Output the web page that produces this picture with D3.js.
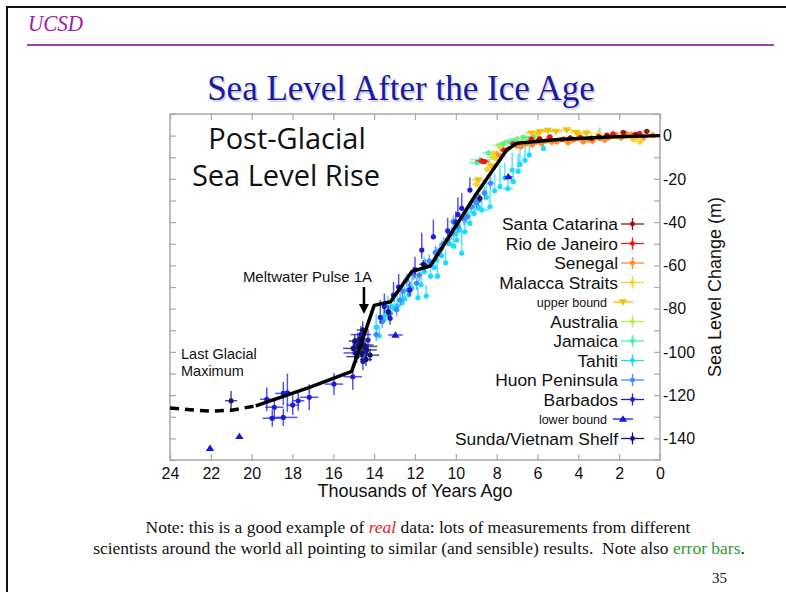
<!DOCTYPE html>
<html>
<head>
<meta charset="utf-8">
<script src="https://cdn.jsdelivr.net/npm/d3@7"></script>
<style>
  html, body { margin: 0; padding: 0; background: #fff; }
  svg { display: block; }
</style>
</head>
<body>
<svg id="slide" width="786" height="592"></svg>
<script>
// Each record: [age (thousand years ago), sea level (m), ± age, level error below, level error above]
const santaCatarina = [
  [0.65, 2.0, 0.15, 1, 1], [1.8, 1.5, 0.15, 1, 1], [3.35, -1.2, 0.15, 1, 1],
  [4.4, -1.0, 0.15, 1, 1], [2.6, 0.2, 0.15, 1, 1], [1.2, 0.6, 0.15, 1, 1],
  [5.9, -1.5, 0.15, 1, 1], [3.0, -0.4, 0.15, 1, 1]
];
const rioDeJaneiro = [
  [8.73, -11.7, 0.3, 1, 1], [7.65, -6.8, 0.2, 1.5, 1.5], [7.2, -3.8, 0.15, 1, 1],
  [6.3, -1.6, 0.15, 1, 1], [3.9, -0.8, 0.15, 1, 1], [2.3, 0.8, 0.15, 1, 1],
  [1.0, 1.0, 0.15, 1, 1], [5.4, -0.6, 0.15, 1, 1], [4.8, -1.8, 0.15, 1, 1],
  [8.6, -12.0, 0.25, 1, 1]
];
const senegal = [
  [6.53, -3.6, 0.2, 1.5, 1.5], [6.04, -2.8, 0.2, 1.5, 1.5], [5.55, -2.2, 0.2, 1.5, 1.5],
  [5.06, -2.8, 0.2, 1.5, 1.5], [4.24, -2.0, 0.2, 1.5, 1.5], [3.75, -2.8, 0.2, 1.5, 1.5],
  [2.94, -1.2, 0.2, 1.5, 1.5], [2.12, 0.3, 0.2, 1.5, 1.5], [1.63, 0.8, 0.2, 1.5, 1.5],
  [1.15, -0.4, 0.2, 1.5, 1.5], [0.35, 0.2, 0.2, 1.5, 1.5], [7.0, -4.8, 0.2, 1.5, 1.5],
  [7.45, -6.2, 0.2, 1.5, 1.5], [3.3, -2.5, 0.2, 1.5, 1.5], [4.7, -1.5, 0.2, 1.5, 1.5],
  [2.5, -0.8, 0.2, 1.5, 1.5], [8.0, -8.5, 0.2, 1.5, 1.5], [6.8, -5.0, 0.2, 1.5, 1.5],
  [6.25, -4.2, 0.2, 1.5, 1.5], [5.8, -3.6, 0.2, 1.5, 1.5], [5.3, -3.0, 0.2, 1.5, 1.5],
  [4.5, -3.2, 0.2, 1.5, 1.5], [4.0, -1.2, 0.2, 1.5, 1.5], [3.5, -1.8, 0.2, 1.5, 1.5],
  [2.7, -2.0, 0.2, 1.5, 1.5], [1.9, -1.0, 0.2, 1.5, 1.5], [1.4, 0.5, 0.2, 1.5, 1.5],
  [0.8, -0.8, 0.2, 1.5, 1.5], [7.8, -9.5, 0.2, 1.5, 1.5]
];
const malaccaStraits = [
  [8.16, -8.2, 0.2, 1.5, 1.5], [7.75, -5.9, 0.2, 1.5, 1.5], [8.05, -10.5, 0.2, 1.5, 1.5],
  [6.8, -3.0, 0.2, 1.5, 1.5], [0.98, -2.8, 0.2, 1.5, 1.5], [2.0, -0.5, 0.2, 1.5, 1.5],
  [3.0, 0.8, 0.2, 1.5, 1.5], [4.0, 0.5, 0.2, 1.5, 1.5], [9.0, -22.5, 0.2, 1.5, 1.5],
  [8.45, -15.5, 0.2, 1.5, 1.5], [1.3, -1.8, 0.2, 1.5, 1.5], [6.0, 0.5, 0.2, 1.5, 1.5]
];
const upperBound = [
  [8.9, -20.5, 0.3], [5.88, 1.8, 0.3], [5.5, 2.4, 0.3], [4.57, 2.6, 0.3],
  [4.1, 1.5, 0.3], [8.25, -14.0, 0.2], [5.1, 1.9, 0.3], [3.6, 1.2, 0.3], [6.3, 1.2, 0.3]
];
const australia = [
  [8.7, -12.2, 0.4, 1, 1], [7.9, -4.5, 0.3, 1, 1], [7.0, -1.5, 0.3, 1, 1], [6.5, -1.0, 0.3, 1, 1],
  [8.2, -10.0, 0.3, 1, 1], [7.55, -3.0, 0.3, 1, 1]
];
const jamaica = [
  [8.8, -11.2, 0.5, 1.5, 1.5], [7.35, -2.8, 0.3, 1, 1], [7.1, -2.2, 0.3, 1, 1],
  [6.2, -0.5, 0.3, 1, 1], [8.4, -8.0, 0.3, 1, 1], [8.95, -12.5, 0.4, 1, 1],
  [7.7, -4.0, 0.3, 1, 1], [6.7, -0.8, 0.3, 1, 1]
];
const tahiti = [
  [13.75, -92.6, 0.05, 1, 5], [13.52, -85.0, 0.05, 1, 6], [13.33, -81.9, 0.05, 1, 8],
  [13.0, -80.0, 0.05, 1, 6], [12.87, -78.9, 0.05, 1, 5], [12.63, -77.3, 0.05, 1, 6],
  [12.3, -73.5, 0.05, 1, 5], [11.86, -75.0, 0.05, 1, 5], [11.45, -74.2, 0.05, 1, 5],
  [11.24, -65.0, 0.05, 1, 6], [10.9, -65.0, 0.05, 1, 8], [10.94, -57.5, 0.05, 1, 6],
  [10.5, -58.8, 0.05, 1, 6], [10.1, -51.1, 0.05, 1, 8], [9.96, -48.3, 0.05, 1, 6],
  [9.8, -43.7, 0.05, 1, 6], [9.71, -54.4, 0.05, 1, 10], [9.31, -40.6, 0.05, 1, 8],
  [8.73, -34.4, 0.35, 1, 5], [8.33, -32.9, 0.05, 1, 8], [7.84, -23.6, 0.05, 1, 10],
  [7.19, -21.3, 0.05, 1, 6], [7.24, -15.9, 0.05, 1, 8], [6.86, -13.3, 0.05, 1, 8],
  [6.61, -11.3, 0.05, 1, 7], [5.71, -5.9, 0.05, 1, 4], [2.95, -1.2, 0.05, 1, 5],
  [13.9, -88.5, 0.05, 1, 6], [13.45, -83.0, 0.05, 1, 7], [13.15, -79.0, 0.05, 1, 6],
  [12.5, -75.5, 0.05, 1, 6], [12.15, -70.5, 0.05, 1, 6], [11.7, -69.0, 0.05, 1, 6],
  [11.55, -63.0, 0.05, 1, 7], [11.05, -61.0, 0.05, 1, 6], [10.7, -55.5, 0.05, 1, 7],
  [10.3, -50.0, 0.05, 1, 7], [10.0, -45.5, 0.05, 1, 6], [9.55, -44.5, 0.05, 1, 7],
  [9.4, -37.5, 0.05, 1, 6], [9.1, -36.0, 0.05, 1, 7], [8.9, -33.0, 0.05, 1, 6],
  [8.5, -28.5, 0.05, 1, 7], [8.1, -25.5, 0.05, 1, 8], [7.6, -19.5, 0.05, 1, 7],
  [7.45, -24.5, 0.25, 1, 5], [6.95, -16.5, 0.05, 1, 8], [6.4, -9.0, 0.05, 1, 6]
];
const huonPeninsula = [
  [13.22, -82.2, 0.15, 3, 3], [12.73, -76.0, 0.15, 3, 3], [12.41, -66.8, 0.15, 3, 3],
  [12.33, -71.4, 0.15, 3, 3], [12.08, -63.7, 0.15, 3, 3], [11.92, -68.3, 0.15, 3, 3],
  [10.78, -52.9, 0.15, 3, 3], [10.6, -50.0, 0.2, 3, 3], [10.2, -45.2, 0.15, 3, 3],
  [10.12, -39.8, 0.15, 3, 3], [9.47, -37.5, 0.15, 3, 3], [9.22, -32.9, 0.15, 3, 3],
  [8.9, -29.5, 0.15, 3, 3], [11.3, -58.0, 0.15, 3, 3], [13.6, -86.0, 0.15, 3, 3],
  [12.9, -80.5, 0.15, 3, 3], [12.6, -72.0, 0.15, 3, 3], [11.8, -64.5, 0.15, 3, 3],
  [11.5, -60.0, 0.15, 3, 3], [11.0, -54.0, 0.15, 3, 3], [10.4, -48.0, 0.15, 3, 3],
  [9.9, -42.0, 0.15, 3, 3], [9.6, -38.5, 0.15, 3, 3], [9.0, -31.0, 0.15, 3, 3],
  [8.6, -26.5, 0.15, 3, 3], [8.3, -22.0, 0.15, 3, 3], [13.9, -92.0, 0.15, 3, 3]
];
const barbados = [
  [19.26, -121.9, 0.33, 5.4, 5.4], [18.89, -125.6, 0.45, 4.4, 4.4], [18.45, -119.2, 0.4, 5.4, 5.4],
  [18.25, -118.9, 0.3, 8.8, 8.8], [17.99, -124.6, 0.3, 4.6, 4.6], [17.18, -121.0, 0.45, 6, 6],
  [15.97, -114.9, 0.45, 5, 5], [11.1, -46.8, 0.05, 1, 8], [9.71, -33.6, 0.05, 1, 7],
  [9.31, -25.2, 0.05, 1, 6], [11.67, -52.9, 0.05, 4, 8], [13.05, -73.7, 0.05, 3, 6],
  [13.22, -84.5, 0.1, 3, 3], [12.25, -71.4, 0.1, 3, 4], [14.3, -94.5, 0.1, 4, 4],
  [14.8, -96.1, 0.1, 5, 5], [14.55, -104.5, 0.1, 4, 4], [13.7, -84.0, 0.05, 3, 8],
  [13.5, -79.0, 0.05, 3, 6], [12.8, -70.0, 0.1, 3, 6], [12.0, -62.0, 0.1, 4, 6],
  [10.4, -44.0, 0.05, 2, 6], [10.0, -40.0, 0.1, 2, 5], [9.9, -36.5, 0.05, 1, 8],
  [14.65, -92.0, 0.5, 4, 4], [14.9, -100.5, 0.6, 3, 3],
  [18.99, -130.7, 0.47, 3.9, 3.9], [18.45, -130.3, 0.7, 4, 4], [17.72, -122.6, 0.3, 4.5, 4.5],
  [15.05, -111.5, 0.45, 6, 6]
];
const lowerBound = [
  [22.04, -144.6, 0], [20.6, -139.1, 0], [12.96, -92.2, 0.35], [7.43, -19.0, 0.2]
];
const sundaShelf = [
  [21.01, -122.6, 0.3, 4.5, 4.5], [14.56, -89.9, 0.3, 4, 4],
  [14.53, -96.8, 0.5, 4, 4], [15.02, -98.4, 0.5, 3, 3], [14.37, -99.1, 0.5, 3, 3],
  [14.61, -100.7, 0.4, 4, 4], [14.2, -101.5, 0.45, 3, 3], [14.86, -102.2, 0.5, 3, 3],
  [14.7, -94.0, 0.3, 3, 3], [14.45, -97.5, 0.6, 3, 3], [13.31, -81.4, 0.1, 3, 3],
  [11.59, -59.5, 0.2, 2, 2], [8.82, -29.0, 0.1, 2, 2], [14.75, -98.0, 0.4, 4, 4],
  [14.4, -103.5, 0.3, 3, 3], [14.95, -95.0, 0.3, 3, 3]
];

// Legend order, names, colours and marker kinds
const seriesNames = ["Santa Catarina", "Rio de Janeiro", "Senegal", "Malacca Straits", "upper bound",
  "Australia", "Jamaica", "Tahiti", "Huon Peninsula", "Barbados", "lower bound", "Sunda/Vietnam Shelf"];
const seriesData = [santaCatarina, rioDeJaneiro, senegal, malaccaStraits, upperBound,
  australia, jamaica, tahiti, huonPeninsula, barbados, lowerBound, sundaShelf];
const seriesColors = ["#a01010", "#ee1515", "#ff8a2a", "#ffd21f", "#f2c200",
  "#b4ee4e", "#4cf0aa", "#18dcff", "#3a8cff", "#1c1ce0", "#1414e6", "#12127a"];
const seriesMarkers = ["cross", "cross", "cross", "cross", "down",
  "cross", "cross", "cross", "cross", "cross", "up", "cross"];
// Order in which series are painted (later on top)
const drawOrder = [7, 8, 9, 11, 10, 5, 6, 2, 3, 4, 1, 0];

// Reconstructed sea-level curve
const curveDashed = [[24, -126], [23, -126.8], [22, -127.4], [21, -127], [19.8, -125]];
const curveSolid = [[19.8, -125], [17.2, -116.5], [15.1, -109], [14.0, -78.5], [13.2, -76.8],
  [12.15, -62.8], [11.25, -60.3], [9.0, -27], [7.5, -6.5], [7.0, -3.5], [5.0, -1.8], [2.5, -0.6], [0, 0]];

const xTickValues = [24, 22, 20, 18, 16, 14, 12, 10, 8, 6, 4, 2, 0];
const yTickLabels = [0, -20, -40, -60, -80, -100, -120, -140];
const yMinorTicks = d3.range(-150, 11, 10);

const svg = d3.select("#slide");
const sans = "'Liberation Sans', Arial, sans-serif";
const serif = "'Liberation Serif', 'Times New Roman', serif";

// ---- slide frame and header ----
svg.append("rect").attr("width", 786).attr("height", 592).attr("fill", "#fff");
svg.append("path").attr("d", "M7,592 V7 H786").attr("fill", "none").attr("stroke", "#111").attr("stroke-width", 2);
svg.append("text").attr("x", 28).attr("y", 31)
  .attr("font-family", serif).attr("font-style", "italic").attr("font-size", 23)
  .attr("textLength", 55).attr("lengthAdjust", "spacingAndGlyphs")
  .attr("fill", "#a0209f").text("UCSD");
svg.append("line").attr("x1", 27).attr("x2", 774).attr("y1", 45).attr("y2", 45)
  .attr("stroke", "#a33fa6").attr("stroke-width", 2);

const title = "Sea Level After the Ice Age";
svg.append("text").attr("x", 402.5).attr("y", 101.5).attr("text-anchor", "middle")
  .attr("font-family", serif).attr("font-size", 35).attr("fill", "#d4d4de").text(title);
svg.append("text").attr("x", 401).attr("y", 100).attr("text-anchor", "middle")
  .attr("font-family", serif).attr("font-size", 35).attr("fill", "#1a1aa6").text(title);

// ---- chart ----
const x = d3.scaleLinear().domain([24, 0]).range([170, 660]);
const y = d3.scaleLinear().domain([-150, 10]).range([460, 114]);

const chart = svg.append("g");
const frameColor = "#a8a8a8";

// inward ticks on all four sides
chart.append("g").attr("transform", "translate(170,0)")
  .call(d3.axisRight(y).tickValues(yMinorTicks).tickSize(6).tickFormat(""))
  .call(g => g.select(".domain").remove());
chart.append("g").attr("transform", "translate(660,0)")
  .call(d3.axisLeft(y).tickValues(yMinorTicks).tickSize(6).tickFormat(""))
  .call(g => g.select(".domain").remove());
chart.append("g").attr("transform", "translate(0,114)")
  .call(d3.axisBottom(x).tickValues(xTickValues).tickSize(6).tickFormat(""))
  .call(g => g.select(".domain").remove());
chart.append("g").attr("transform", "translate(0,460)")
  .call(d3.axisTop(x).tickValues(xTickValues).tickSize(6).tickFormat(""))
  .call(g => g.select(".domain").remove());
chart.selectAll(".tick line").attr("stroke", frameColor).attr("stroke-width", 1.2);

// tick labels
chart.append("g").attr("transform", "translate(0,460)")
  .call(d3.axisBottom(x).tickValues(xTickValues).tickSize(0).tickPadding(8).tickFormat(d => String(d)))
  .call(g => g.select(".domain").remove())
  .call(g => g.selectAll("text").attr("font-family", sans).attr("font-size", 16).attr("fill", "#111"));
chart.append("g").attr("transform", "translate(660,0)")
  .call(d3.axisRight(y).tickValues(yTickLabels).tickSize(0).tickPadding(3).tickFormat(d => String(d)))
  .call(g => g.select(".domain").remove())
  .call(g => g.selectAll("text").attr("font-family", sans).attr("font-size", 16).attr("fill", "#111"));

chart.append("rect").attr("x", 170).attr("y", 114).attr("width", 490).attr("height", 346)
  .attr("fill", "none").attr("stroke", frameColor).attr("stroke-width", 1.5);

// axis titles
chart.append("text").attr("x", 415).attr("y", 497).attr("text-anchor", "middle")
  .attr("font-family", sans).attr("font-size", 18).attr("fill", "#111").text("Thousands of Years Ago");
chart.append("text").attr("transform", "translate(721,287) rotate(-90)").attr("text-anchor", "middle")
  .attr("font-family", sans).attr("font-size", 18).attr("fill", "#111").text("Sea Level Change (m)");

// data points with error bars
const marks = chart.append("g");
function drawTriangle(g, px, py, color, dir, s) {
  const h = s * 0.9;
  const pts = dir === "up"
    ? [[px, py - h], [px - s, py + h * 0.7], [px + s, py + h * 0.7]]
    : [[px, py + h], [px - s, py - h * 0.7], [px + s, py - h * 0.7]];
  g.append("path").attr("d", d3.line()(pts) + "Z").attr("fill", color);
}
drawOrder.forEach(i => {
  const color = seriesColors[i];
  const kind = seriesMarkers[i];
  const g = marks.append("g");
  seriesData[i].forEach(d => {
    const px = x(d[0]), py = y(d[1]);
    const bars = g.append("g").attr("stroke", color).attr("stroke-width", 1.5).attr("opacity", 0.75);
    if (d[2] > 0) bars.append("line").attr("x1", x(d[0] + d[2])).attr("x2", x(d[0] - d[2])).attr("y1", py).attr("y2", py);
    if (kind === "cross" && (d[3] > 0 || d[4] > 0))
      bars.append("line").attr("x1", px).attr("x2", px).attr("y1", y(d[1] - d[3])).attr("y2", y(d[1] + d[4]));
    if (kind === "cross") g.append("circle").attr("cx", px).attr("cy", py).attr("r", 2.6).attr("fill", color);
    else drawTriangle(g, px, py, color, kind, 4.2);
  });
});

// sea-level curve
const curveLine = d3.line().x(d => x(d[0])).y(d => y(d[1]));
chart.append("path").attr("d", curveLine(curveDashed)).attr("fill", "none")
  .attr("stroke", "#000").attr("stroke-width", 3.5).attr("stroke-dasharray", "9,6");
chart.append("path").attr("d", curveLine(curveSolid)).attr("fill", "none")
  .attr("stroke", "#000").attr("stroke-width", 3.5).attr("stroke-linejoin", "round");

// chart annotations
const display = "'Open Sans', sans-serif";
chart.append("text").attr("x", 287).attr("y", 149).attr("text-anchor", "middle")
  .attr("font-family", display).attr("font-size", 29).attr("fill", "#111").text("Post-Glacial");
chart.append("text").attr("x", 286).attr("y", 186).attr("text-anchor", "middle")
  .attr("font-family", display).attr("font-size", 29).attr("fill", "#111").text("Sea Level Rise");
chart.append("text").attr("x", 307.5).attr("y", 282).attr("text-anchor", "middle")
  .attr("font-family", sans).attr("font-size", 15).attr("fill", "#111").text("Meltwater Pulse 1A");
chart.append("line").attr("x1", x(14.5)).attr("x2", x(14.5)).attr("y1", 287).attr("y2", 306)
  .attr("stroke", "#000").attr("stroke-width", 2.5);
chart.append("path").attr("d", d3.line()([[x(14.5) - 5, 304], [x(14.5) + 5, 304], [x(14.5), 314]]) + "Z").attr("fill", "#000");
chart.append("text").attr("x", 181).attr("y", 359)
  .attr("font-family", sans).attr("font-size", 14.5).attr("fill", "#111").text("Last Glacial");
chart.append("text").attr("x", 181).attr("y", 376)
  .attr("font-family", sans).attr("font-size", 14.5).attr("fill", "#111").text("Maximum");

// legend
const legend = chart.append("g");
seriesNames.forEach((name, i) => {
  const cy = 224 + i * 19.5;
  const small = seriesMarkers[i] !== "cross";
  const color = seriesColors[i];
  legend.append("text").attr("x", small ? 607 : 618).attr("y", cy + (small ? 4.5 : 6))
    .attr("text-anchor", "end").attr("font-family", sans).attr("font-size", small ? 12.5 : 17.4)
    .attr("fill", "#111").text(name);
  if (small) {
    legend.append("line").attr("x1", 613).attr("x2", 633).attr("y1", cy).attr("y2", cy)
      .attr("stroke", color).attr("stroke-width", 1.3);
    drawTriangle(legend, 623, cy, color, seriesMarkers[i], 4.2);
  } else {
    legend.append("line").attr("x1", 621).attr("x2", 644).attr("y1", cy).attr("y2", cy)
      .attr("stroke", color).attr("stroke-width", 1.3);
    legend.append("line").attr("x1", 632.5).attr("x2", 632.5).attr("y1", cy - 6).attr("y2", cy + 6)
      .attr("stroke", color).attr("stroke-width", 1.3);
    legend.append("circle").attr("cx", 632.5).attr("cy", cy).attr("r", 2.4).attr("fill", color);
  }
});

// ---- footnote ----
const noteSize = 17.5;
const note1 = svg.append("text").attr("x", 418).attr("y", 533).attr("text-anchor", "middle")
  .attr("font-family", serif).attr("font-size", noteSize).attr("fill", "#111");
note1.append("tspan").text("Note: this is a good example of ");
note1.append("tspan").attr("fill", "#e8201c").attr("font-style", "italic").text("real");
note1.append("tspan").text(" data: lots of measurements from different");
const note2 = svg.append("text").attr("x", 419).attr("y", 554).attr("text-anchor", "middle")
  .attr("font-family", serif).attr("font-size", noteSize).attr("fill", "#111").attr("xml:space", "preserve");
note2.append("tspan").text("scientists around the world all pointing to similar (and sensible) results.  Note also ");
note2.append("tspan").attr("fill", "#2f9a2f").text("error bars");
note2.append("tspan").text(".");
svg.append("text").attr("x", 727).attr("y", 583).attr("text-anchor", "end")
  .attr("font-family", serif).attr("font-size", 15).attr("fill", "#111").text("35");
</script>
</body>
</html>
